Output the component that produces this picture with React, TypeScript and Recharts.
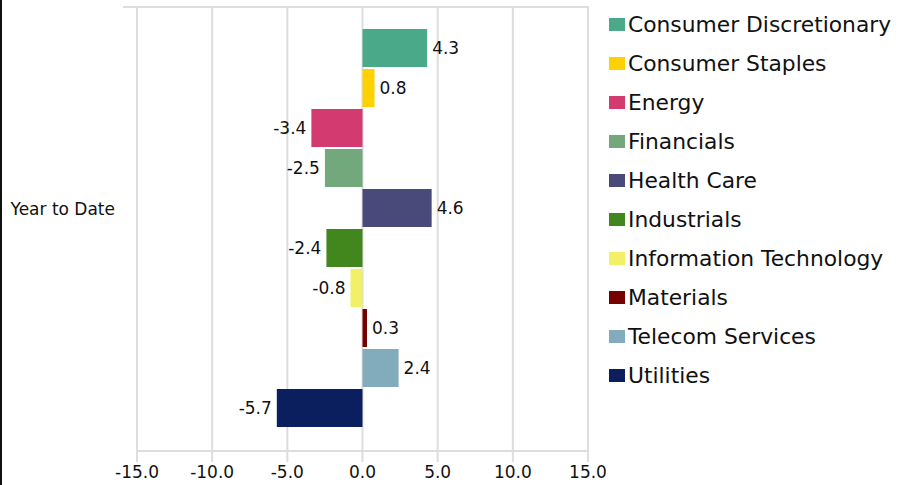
import React from 'react';
import { BarChart, Bar, XAxis, YAxis, CartesianGrid, LabelList } from 'recharts';

// sector performance, single period
const periods = ['Year to Date'];
const sectors = [
  'Consumer Discretionary',
  'Consumer Staples',
  'Energy',
  'Financials',
  'Health Care',
  'Industrials',
  'Information Technology',
  'Materials',
  'Telecom Services',
  'Utilities',
];
const ytdValues = [4.3, 0.8, -3.4, -2.5, 4.6, -2.4, -0.8, 0.3, 2.4, -5.7];
const sectorColors = [
  '#49a989',
  '#ffd100',
  '#d33a70',
  '#72a87b',
  '#4a4a7a',
  '#42871e',
  '#f1f066',
  '#750000',
  '#82abbb',
  '#0b1f5e',
];
const xTicks = [-15, -10, -5, 0, 5, 10, 15];

const data = periods.map((p) => {
  const row: Record<string, string | number> = { period: p };
  sectors.forEach((s, i) => {
    row[s] = ytdValues[i];
  });
  return row;
});

const FONT = '"DejaVu Sans", Verdana, sans-serif';
const GRID = '#dddddd';

const App: React.FC = () => {
  return (
    <div style={{ position: 'absolute', left: 0, top: 0, width: 904, height: 485, background: '#fff', fontFamily: FONT }}>
      {/* left border */}
      <div style={{ position: 'absolute', left: 0, top: 0, width: 2, height: 485, background: '#111' }} />

      <BarChart
        width={904}
        height={485}
        data={data}
        layout="vertical"
        margin={{ top: 7, right: 316, bottom: 0, left: 0 }}
        barCategoryGap={22}
        barGap={2}
      >
        <CartesianGrid horizontal={false} stroke={GRID} strokeWidth={2} />
        <XAxis
          type="number"
          domain={[-15, 15]}
          ticks={xTicks}
          interval={0}
          height={34}
          tickFormatter={(v: number) => v.toFixed(1)}
          tick={{ fill: '#111', fontSize: 17, fontFamily: FONT }}
          axisLine={{ stroke: GRID, strokeWidth: 2 }}
          tickLine={{ stroke: GRID, strokeWidth: 2 }}
          tickSize={11}
          tickMargin={4}
        />
        <YAxis
          type="category"
          dataKey="period"
          width={137}
          axisLine={false}
          tickLine={false}
          tickMargin={16}
          tick={{ fill: '#111', fontSize: 17, fontFamily: FONT, dy: -20 }}
        />
        {sectors.map((s, i) => (
          <Bar key={s} dataKey={s} fill={sectorColors[i]} isAnimationActive={false}>
            <LabelList
              dataKey={s}
              position="right"
              offset={5}
              formatter={(v: number) => v.toFixed(1)}
              style={{ fill: '#111', fontSize: 17, fontFamily: FONT }}
            />
          </Bar>
        ))}
      </BarChart>

      {/* top frame line */}
      <div style={{ position: 'absolute', left: 123, top: 6, width: 466, height: 2, background: GRID, pointerEvents: 'none' }} />

      {/* legend */}
      <div style={{ position: 'absolute', left: 609, top: 5 }}>
        {sectors.map((s, i) => (
          <div key={s} style={{ height: 39, display: 'flex', alignItems: 'center', whiteSpace: 'nowrap' }}>
            <span style={{ display: 'inline-block', width: 16, height: 13, background: sectorColors[i], marginRight: 3 }} />
            <span style={{ fontSize: 21.8, color: '#111', lineHeight: '39px' }}>{s}</span>
          </div>
        ))}
      </div>
    </div>
  );
};

export default App;
